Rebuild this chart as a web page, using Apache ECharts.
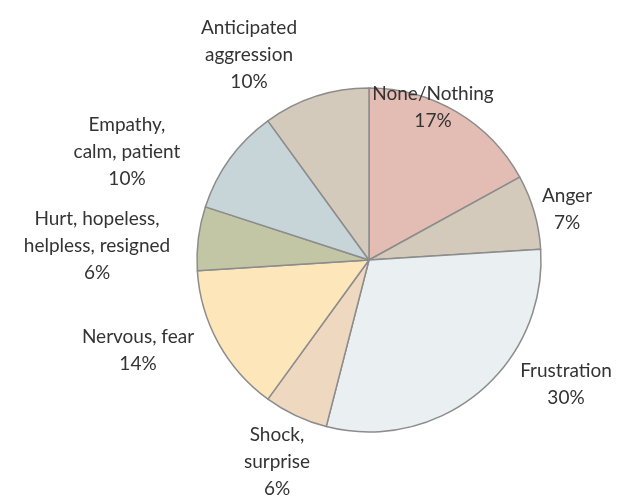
<!DOCTYPE html>
<html>
<head>
<meta charset="utf-8">
<script src="https://cdn.jsdelivr.net/npm/echarts@6/dist/echarts.min.js"></script>
<style>
  html, body { margin: 0; padding: 0; background: #fff; }
  #chart { width: 629px; height: 504px; }
</style>
</head>
<body>
<div id="chart"></div>
<script>
var categories = [
  'None/Nothing',
  'Anger',
  'Frustration',
  'Shock,\nsurprise',
  'Nervous, fear',
  'Hurt, hopeless,\nhelpless, resigned',
  'Empathy,\ncalm, patient',
  'Anticipated\naggression'
];
var percents = [17, 7, 30, 6, 14, 6, 10, 10];
var colors = ['#e3bdb3', '#d3cabc', '#eaeff2', '#efd8c0', '#fde6b9', '#c3c6a5', '#c7d5d8', '#d3cabc'];

// where each label block sits (centre of text)
var labelPos = [
  [433, 107], [567, 209], [566, 384], [277, 462],
  [138, 350], [97, 246], [127, 152], [249, 55]
];

var chart = echarts.init(document.getElementById('chart'));
chart.setOption({
  animation: false,
  series: [{
    type: 'pie',
    center: [369, 260],
    radius: [0, 172],
    startAngle: 90,
    clockwise: true,
    data: categories.map(function (c, i) {
      return { name: c, value: percents[i], itemStyle: { color: colors[i] } };
    }),
    itemStyle: { borderColor: '#8c8c8c', borderWidth: 1.5 },
    label: {
      show: true,
      position: 'inside',
      formatter: '{b}\n{c}%',
      fontFamily: 'Lato',
      fontSize: 19,
      lineHeight: 27,
      color: '#333',
      align: 'center',
      overflow: 'none'
    },
    labelLine: { show: false },
    labelLayout: function (params) {
      var p = labelPos[params.dataIndex];
      return { x: p[0], y: p[1], align: 'center', verticalAlign: 'middle' };
    }
  }]
});
</script>
</body>
</html>
